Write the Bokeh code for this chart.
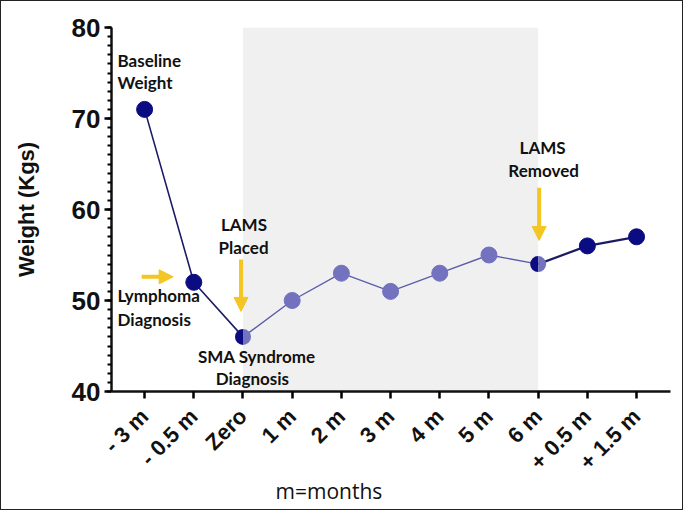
import math
from bokeh.plotting import figure
from bokeh.models import (Range1d, FixedTicker, BoxAnnotation, Arrow, NormalHead,
                          Title, ColumnDataSource)
from bokeh.core.properties import value
from bokeh.embed import file_html
from bokeh.resources import INLINE

# ---- data ----
categories = ["- 3 m", "- 0.5 m", "Zero", "1 m", "2 m", "3 m", "4 m", "5 m", "6 m", "+ 0.5 m", "+ 1.5 m"]
weights = [71, 52, 46, 50, 53, 51, 53, 55, 54, 56, 57]
# index ranges of the phases
pre_idx = [0, 1, 2]
lams_idx = [2, 3, 4, 5, 6, 7, 8]
post_idx = [8, 9, 10]

y_ticks = [40, 50, 60, 70, 80]

ann_texts = ["Baseline", "Weight", "Lymphoma", "Diagnosis", "SMA Syndrome", "Diagnosis",
             "LAMS", "Placed", "LAMS", "Removed"]
ann_x = [-0.55, -0.55, -0.55, -0.55, 2.28, 2.19, 2.02, 2.01, 8.09, 8.11]
ann_y = [76.4, 74.0, 50.5, 47.9, 43.9, 41.4, 58.3, 55.8, 66.8, 64.3]
ann_align = ["left", "left", "left", "left", "center", "center", "center", "center", "center", "center"]

NAVY = "#0c0c82"
LIGHT = "#7272bf"
NAVY_LINE = "#1c1c66"
LIGHT_LINE = "#5d5dab"
GOLD = "#f3c623"

x = list(range(len(categories)))

p = figure(width=683, height=510, output_backend="svg", toolbar_location=None,
           x_range=Range1d(-0.673, 10.69), y_range=Range1d(40, 80),
           min_border_left=110, min_border_right=14, min_border_top=26, min_border_bottom=116)
p.outline_line_color = None
p.grid.grid_line_color = None
p.background_fill_color = "white"

# shaded LAMS period
p.add_layout(BoxAnnotation(left=2, right=8, fill_color="#f0f0f0", fill_alpha=1.0,
                           line_color=None, level="underlay"))

# lines
p.line([x[i] for i in pre_idx], [weights[i] for i in pre_idx], line_color=NAVY_LINE, line_width=1.6)
p.line([x[i] for i in lams_idx], [weights[i] for i in lams_idx], line_color=LIGHT_LINE, line_width=1.4)
p.line([x[i] for i in post_idx], [weights[i] for i in post_idx], line_color=NAVY_LINE, line_width=2.2)

# points
navy_pts = [0, 1, 9, 10]
light_pts = [3, 4, 5, 6, 7]
p.scatter([x[i] for i in navy_pts], [weights[i] for i in navy_pts], size=16,
          fill_color=NAVY, line_color=NAVY)
p.scatter([x[i] for i in light_pts], [weights[i] for i in light_pts], size=16,
          fill_color=LIGHT, line_color=LIGHT)
# half/half points at phase boundaries
half_pts = [2, 8]
p.wedge([x[i] for i in half_pts], [weights[i] for i in half_pts], radius=8, radius_units="screen",
        start_angle=math.pi / 2, end_angle=3 * math.pi / 2, fill_color=NAVY, line_color=None)
p.wedge([x[i] for i in half_pts], [weights[i] for i in half_pts], radius=8, radius_units="screen",
        start_angle=-math.pi / 2, end_angle=math.pi / 2, fill_color=LIGHT, line_color=None)

# arrows
for (x0, y0, x1, y1) in [(-0.06, 52.6, 0.58, 52.6), (1.96, 54.5, 1.96, 48.8), (8.02, 62.4, 8.02, 56.6)]:
    p.add_layout(Arrow(x_start=x0, y_start=y0, x_end=x1, y_end=y1, line_color=GOLD, line_width=4,
                       end=NormalHead(size=14, fill_color=GOLD, line_color=GOLD)))

# annotation texts
src = ColumnDataSource(dict(x=ann_x, y=ann_y, t=ann_texts, a=ann_align))
p.text(x="x", y="y", text="t", text_align="a", source=src, text_baseline="middle",
       text_font=value("Lato"), text_font_style="bold", text_font_size="17px", text_color="#111111")

# axes
p.xaxis.ticker = FixedTicker(ticks=x)
p.xaxis.major_label_overrides = {i: c for i, c in enumerate(categories)}
p.xaxis.major_label_orientation = math.pi / 4
p.xaxis.major_label_text_font = "Liberation Sans"
p.xaxis.major_label_text_font_style = "bold"
p.xaxis.major_label_text_font_size = "22px"
p.xaxis.major_label_text_color = "#111111"
p.xaxis.major_tick_in = 0
p.xaxis.major_tick_out = 7
p.xaxis.major_tick_line_width = 2.5
p.xaxis.minor_tick_line_color = None
p.xaxis.axis_line_width = 2.5
p.xaxis.axis_line_color = "#111111"
p.xaxis.major_label_standoff = 14

p.yaxis.ticker = FixedTicker(ticks=y_ticks, minor_ticks=list(range(40, 81)))
p.yaxis.major_label_text_font = "Liberation Sans"
p.yaxis.major_label_text_font_style = "bold"
p.yaxis.major_label_text_font_size = "26px"
p.yaxis.major_label_text_color = "#111111"
p.yaxis.major_tick_in = 0
p.yaxis.major_tick_out = 7
p.yaxis.major_tick_line_width = 2.5
p.yaxis.minor_tick_in = 0
p.yaxis.minor_tick_out = 4
p.yaxis.minor_tick_line_width = 2
p.yaxis.axis_line_width = 2.5
p.yaxis.axis_line_color = "#111111"
p.yaxis.major_label_standoff = 4
p.yaxis.axis_label = "Weight (Kgs)"
p.yaxis.axis_label_text_font = "Liberation Sans"
p.yaxis.axis_label_text_font_style = "bold"
p.yaxis.axis_label_text_font_size = "22px"
p.yaxis.axis_label_text_color = "#111111"
p.yaxis.axis_label_standoff = 30

# x-axis title
p.add_layout(Title(text="m=months", align="left", offset=164, standoff=-24,
                   text_font="Open Sans", text_font_style="normal", text_font_size="21px",
                   text_color="#111111"), "below")
# small spacer beneath the x-axis title
p.add_layout(Title(text=" ", standoff=0, text_font_size="15px"), "below")

p.styles = {"border": "1.5px solid #222222", "box-sizing": "border-box"}

open("out.html", "w").write(file_html(p, INLINE))
